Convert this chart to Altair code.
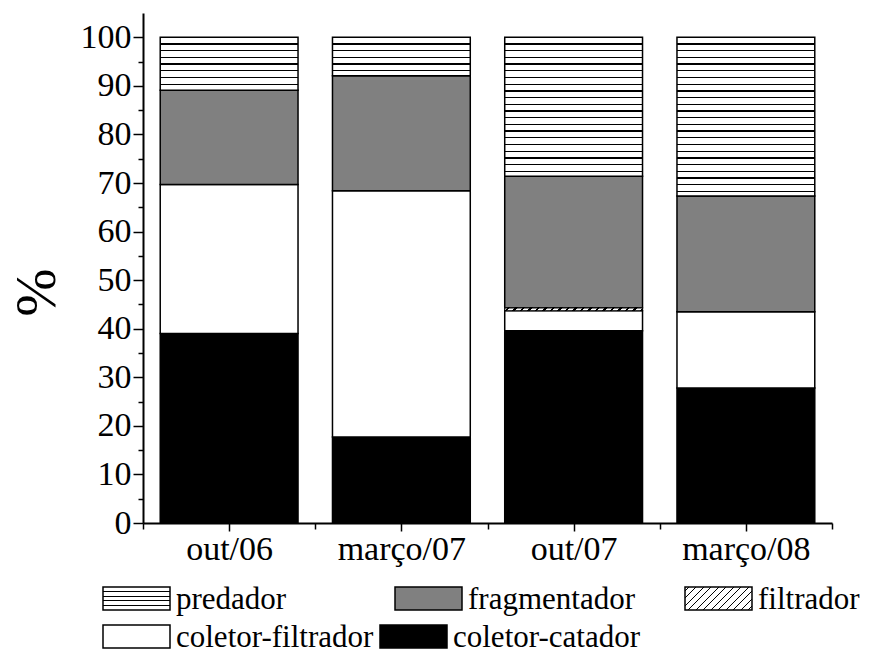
import json
import altair as alt
import pandas as pd

# ---------------- data ----------------
categories = ["out/06", "março/07", "out/07", "março/08"]
stack_order = ["coletor-catador", "coletor-filtrador", "filtrador", "fragmentador", "predador"]
coletor_catador = [39.0, 17.7, 39.6, 27.8]
coletor_filtrador = [30.7, 50.7, 4.1, 15.7]
filtrador = [0.0, 0.0, 0.6, 0.0]
fragmentador = [19.4, 23.7, 27.1, 23.8]
predador = [10.9, 7.9, 28.6, 32.7]
legend_order = ["predador", "fragmentador", "filtrador", "coletor-filtrador", "coletor-catador"]
y_ticks = list(range(0, 101, 10))
y_minor = list(range(5, 100, 10))

series = {
    "coletor-catador": coletor_catador,
    "coletor-filtrador": coletor_filtrador,
    "filtrador": filtrador,
    "fragmentador": fragmentador,
    "predador": predador,
}

rows = []
for i, cat in enumerate(categories):
    base = 0.0
    for g in stack_order:
        v = series[g][i]
        rows.append({"cat": cat, "idx": i, "x0": i + 0.1, "x1": i + 0.9,
                     "group": g, "start": base, "end": base + v})
        base += v
df = pd.DataFrame(rows)

# ---------------- layout ----------------
W, H = 689, 510
YMAX = 105
PX = H / YMAX
BAND_PX = W / 4 * 0.8
FONT = "Liberation Serif, Times New Roman, serif"

def GS(c, o):
    return alt.GradientStop(color=c, offset=max(0.0, min(1.0, o)))

def hstripes(h_px, spacing, lw=1.3):
    stops = [GS("white", 0)]
    j = 1
    while j * spacing < h_px - 1.5:
        c = j * spacing / h_px
        a, b = c - lw / 2 / h_px, c + lw / 2 / h_px
        stops += [GS("white", a), GS("black", a), GS("black", b), GS("white", b)]
        j += 1
    stops.append(GS("white", 1))
    return alt.LinearGradient(gradient="linear", stops=stops, x1=0, y1=0, x2=0, y2=1)

def diag(w, h, period=7.5, lw=1.4):
    total = w + h
    s = total / (w + h * h / w)
    stops = [GS("white", 0)]
    c = period / 2
    while c < total:
        a, b = (c - lw / 2) / total, (c + lw / 2) / total
        stops += [GS("white", a), GS("black", a), GS("black", b), GS("white", b)]
        c += period
    stops.append(GS("white", 1))
    return alt.LinearGradient(gradient="linear", stops=stops, x1=0, y1=0, x2=s, y2=s * h / w)

xscale = alt.Scale(domain=[0, 4], nice=False, zero=False)
yscale = alt.Scale(domain=[0, YMAX], nice=False)

label_expr = "%s[round(datum.value - 0.5)]" % json.dumps(categories, ensure_ascii=False)

x_major = alt.Axis(orient="bottom", values=[0.5, 1.5, 2.5, 3.5], labelExpr=label_expr,
                   title=None, grid=False,
                   domainColor="black", domainWidth=2, tickColor="black", tickWidth=1.5,
                   tickSize=8, labelFont=FONT, labelFontSize=34, labelColor="black",
                   labelPadding=1)
x_minor = alt.Axis(orient="bottom", values=[0, 1, 2, 3, 4], labels=False, title=None,
                   grid=False, domain=False,
                   tickColor="black", tickWidth=1.5, tickSize=6)
y_major = alt.Axis(orient="left", values=y_ticks, title="%", grid=False, domainColor="black",
                   domainWidth=2, tickColor="black", tickWidth=1.5, tickSize=10,
                   labelFont=FONT, labelFontSize=34, labelColor="black", labelPadding=2,
                   titleFont=FONT, titleFontSize=58, titleFontWeight="normal",
                   titleColor="black", titleAngle=-90, titleAlign="center",
                   titleBaseline="middle", titleX=-106, titleY=279)
y_minor_ax = alt.Axis(orient="left", values=y_minor, labels=False, title=None, grid=False,
                      domain=False, tickColor="black", tickWidth=1.5, tickSize=5)

solid_groups = ["coletor-catador", "coletor-filtrador", "fragmentador"]
solid = alt.Chart(df).transform_filter(
    alt.FieldOneOfPredicate(field="group", oneOf=solid_groups)
).mark_bar(stroke="black", strokeWidth=1.5).encode(
    x=alt.X("x0:Q", scale=xscale, axis=x_major),
    x2="x1:Q",
    y=alt.Y("start:Q", scale=yscale, axis=y_major),
    y2="end:Q",
    fill=alt.Fill("group:N", scale=alt.Scale(domain=solid_groups,
                                              range=["black", "white", "#808080"]),
                  legend=None),
)

layers = [solid]
first = True
for i, cat in enumerate(categories):
    if predador[i] > 0:
        grad = hstripes(predador[i] * PX, 6.7)
        ch = alt.Chart(df).transform_filter(
            (alt.datum.group == "predador") & (alt.datum.idx == i)
        ).mark_bar(fill=grad, stroke="black", strokeWidth=1.5)
        if first:
            ch = ch.encode(x=alt.X("x0:Q", scale=xscale, axis=x_minor), x2="x1:Q",
                           y=alt.Y("start:Q", scale=yscale, axis=y_minor_ax), y2="end:Q")
            first = False
        else:
            ch = ch.encode(x=alt.X("x0:Q", scale=xscale, axis=None), x2="x1:Q",
                           y=alt.Y("start:Q", scale=yscale, axis=None), y2="end:Q")
        layers.append(ch)
    if filtrador[i] > 0:
        grad = diag(BAND_PX, filtrador[i] * PX, period=7.5, lw=2.5)
        ch = alt.Chart(df).transform_filter(
            (alt.datum.group == "filtrador") & (alt.datum.idx == i)
        ).mark_bar(fill=grad, stroke="black", strokeWidth=1.2).encode(
            x=alt.X("x0:Q", scale=xscale, axis=None), x2="x1:Q",
            y=alt.Y("start:Q", scale=yscale, axis=None), y2="end:Q")
        layers.append(ch)

# ---------------- legend ----------------
one = pd.DataFrame({"a": [0]})
SW_W, SW_H = 67, 23
LEG_FONT = 31
row_y = [574, 612]
col_x = {"predador": (-40, 0), "fragmentador": (252, 0), "filtrador": (542, 0),
         "coletor-filtrador": (-40, 1), "coletor-catador": (237, 1)}
legend_fill = {
    "predador": hstripes(SW_H, SW_H / 5),
    "fragmentador": "#808080",
    "filtrador": diag(SW_W, SW_H, period=7.5, lw=1.4),
    "coletor-filtrador": "white",
    "coletor-catador": "black",
}
for name in legend_order:
    x0, r = col_x[name]
    y0 = row_y[r]
    sw = alt.Chart(one).mark_rect(fill=legend_fill[name], stroke="black", strokeWidth=1.5).encode(
        x=alt.value(x0), x2=alt.value(x0 + SW_W), y=alt.value(y0), y2=alt.value(y0 + SW_H))
    tx = alt.Chart(one).mark_text(align="left", baseline="middle", font=FONT, fontSize=LEG_FONT,
                                  color="black").encode(
        x=alt.value(x0 + SW_W + 6), y=alt.value(y0 + SW_H / 2 + 1), text=alt.value(name))
    layers += [sw, tx]

chart = alt.layer(*layers).resolve_axis(x="independent", y="independent").properties(
    width=W, height=H,
    autosize=alt.AutoSizeParams(type="none"),
    padding={"left": 135, "top": 5, "right": 37, "bottom": 136},
    background="white",
).configure_view(stroke=None)

chart.save("out.html", embed_options={"renderer": "svg", "actions": False})
